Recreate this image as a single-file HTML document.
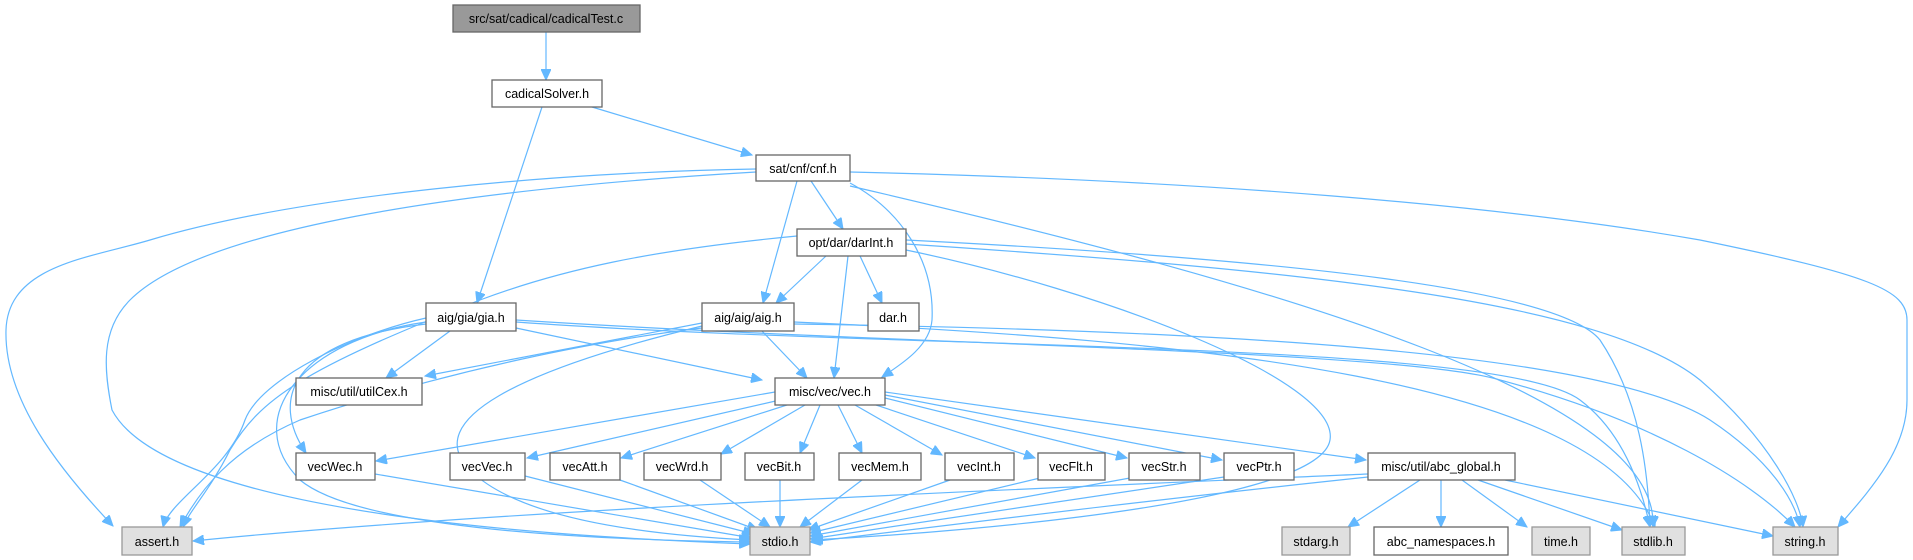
<!DOCTYPE html>
<html><head><meta charset="utf-8"><style>
html,body{margin:0;padding:0;background:#fff;}
svg{display:block;}
text{font-family:"Liberation Sans",Arial,sans-serif;font-size:12.5px;fill:#000;text-anchor:middle;}
.n{fill:#fff;stroke:#666;stroke-width:1.3;}
.g{fill:#e0e0e0;stroke:#999;stroke-width:1.3;}
.e path{fill:none;stroke:#63b8ff;stroke-width:1.2;marker-end:url(#a);}
</style></head><body>
<svg width="1913" height="560" viewBox="0 0 1913 560" xmlns="http://www.w3.org/2000/svg">
<defs><marker id="a" markerUnits="userSpaceOnUse" markerWidth="12" markerHeight="10" refX="11" refY="5" orient="auto"><path d="M0,0 L11,5 L0,10 z" fill="#63b8ff" stroke="#63b8ff"/></marker></defs>
<g class="e">
<path d="M546,32 L546,80"/>
<path d="M592,107 L752,155"/>
<path d="M542,107 L477,303"/>
<path d="M756,169 C560,172 300,195 150,240 C90,258 8,265 6,330 C4,400 60,470 113,526"/>
<path d="M756,172 C450,190 200,230 130,300 C100,330 104,370 112,410 C170,520 600,538 750,544"/>
<path d="M811,181 L843,229"/>
<path d="M797,181 L763,303"/>
<path d="M850,183 C900,210 935,260 932,320 C930,345 905,362 882,377"/>
<path d="M850,186 C1300,290 1660,400 1653,527"/>
<path d="M850,172 C1200,180 1500,205 1700,240 C1870,275 1907,290 1907,320 L1907,400 C1907,450 1870,490 1838,527"/>
<path d="M797,236 C650,250 560,270 480,300 C300,370 260,400 230,450 C210,490 190,510 183,527"/>
<path d="M826,256 L776,303"/>
<path d="M860,256 L882,303"/>
<path d="M848,256 L834,378"/>
<path d="M906,250 C1100,290 1340,380 1330,440 C1320,500 1000,530 812,540"/>
<path d="M906,240 C1300,260 1560,290 1600,340 C1640,400 1648,470 1650,527"/>
<path d="M906,244 C1300,270 1600,300 1700,380 C1770,440 1800,500 1803,527"/>
<path d="M426,318 C350,335 260,380 245,420 C228,470 170,500 163,527"/>
<path d="M426,321 C370,335 320,360 300,400 C280,450 270,490 268,527" style="display:none"/>
<path d="M426,322 C300,340 240,420 300,480 C360,530 600,540 750,542"/>
<path d="M450,331 L386,378"/>
<path d="M426,324 C290,340 270,400 306,453"/>
<path d="M516,328 L762,380"/>
<path d="M516,322 C900,350 1500,340 1580,400 C1620,430 1640,480 1650,527"/>
<path d="M516,320 C900,345 1400,350 1500,380 C1650,420 1750,480 1795,527"/>
<path d="M702,323 L425,376"/>
<path d="M702,328 C600,340 450,370 300,420 C230,450 200,490 180,527"/>
<path d="M702,326 C520,370 420,420 470,470 C520,520 650,535 750,540"/>
<path d="M762,331 L807,378"/>
<path d="M794,322 C1200,340 1600,380 1655,527"/>
<path d="M794,324 C1200,330 1600,350 1710,420 C1770,460 1795,500 1800,527"/>
<path d="M775,392 L376,461"/>
<path d="M780,400 L527,458"/>
<path d="M790,404 L621,458"/>
<path d="M805,405 L721,454"/>
<path d="M820,405 L800,453"/>
<path d="M838,405 L862,453"/>
<path d="M855,405 L942,455"/>
<path d="M870,403 L1035,458"/>
<path d="M885,398 L1127,458"/>
<path d="M885,395 L1222,460"/>
<path d="M885,392 L1366,460"/>
<path d="M375,474 L752,538"/>
<path d="M525,476 L754,534"/>
<path d="M620,480 L758,530"/>
<path d="M700,480 L770,527"/>
<path d="M780,480 L780,527"/>
<path d="M862,480 L800,527"/>
<path d="M950,480 L808,530"/>
<path d="M1040,478 L810,533"/>
<path d="M1130,478 L810,536"/>
<path d="M1224,477 L810,539"/>
<path d="M1368,474 C1000,490 500,510 193,541"/>
<path d="M1368,477 C1150,500 950,525 810,542"/>
<path d="M1420,480 L1348,527"/>
<path d="M1441,480 L1441,527"/>
<path d="M1462,480 L1527,527"/>
<path d="M1478,480 L1622,530"/>
<path d="M1505,480 L1773,536"/>
</g>
<rect x="453" y="5" width="187" height="27" fill="#999" stroke="#666" stroke-width="1.3"/><text x="546" y="23">src/sat/cadical/cadicalTest.c</text>
<rect class="n" x="492" y="80" width="110" height="27"/><text x="547" y="98">cadicalSolver.h</text>
<rect class="n" x="756" y="155" width="94" height="26"/><text x="803" y="173">sat/cnf/cnf.h</text>
<rect class="n" x="797" y="229" width="109" height="27"/><text x="851" y="247">opt/dar/darInt.h</text>
<rect class="n" x="426" y="303" width="90" height="28"/><text x="471" y="322">aig/gia/gia.h</text>
<rect class="n" x="702" y="303" width="92" height="28"/><text x="748" y="322">aig/aig/aig.h</text>
<rect class="n" x="868" y="303" width="51" height="28"/><text x="893" y="322">dar.h</text>
<rect class="n" x="296" y="378" width="126" height="27"/><text x="359" y="396">misc/util/utilCex.h</text>
<rect class="n" x="775" y="378" width="110" height="27"/><text x="830" y="396">misc/vec/vec.h</text>
<rect class="n" x="296" y="453" width="79" height="27"/><text x="335" y="471">vecWec.h</text>
<rect class="n" x="450" y="453" width="75" height="27"/><text x="487" y="471">vecVec.h</text>
<rect class="n" x="550" y="453" width="70" height="27"/><text x="585" y="471">vecAtt.h</text>
<rect class="n" x="644" y="453" width="77" height="27"/><text x="682" y="471">vecWrd.h</text>
<rect class="n" x="745" y="453" width="69" height="27"/><text x="779" y="471">vecBit.h</text>
<rect class="n" x="839" y="453" width="82" height="27"/><text x="880" y="471">vecMem.h</text>
<rect class="n" x="945" y="453" width="69" height="27"/><text x="979" y="471">vecInt.h</text>
<rect class="n" x="1038" y="453" width="67" height="27"/><text x="1071" y="471">vecFlt.h</text>
<rect class="n" x="1129" y="453" width="71" height="27"/><text x="1164" y="471">vecStr.h</text>
<rect class="n" x="1224" y="453" width="70" height="27"/><text x="1259" y="471">vecPtr.h</text>
<rect class="n" x="1368" y="453" width="147" height="27"/><text x="1441" y="471">misc/util/abc_global.h</text>
<rect class="g" x="122" y="527" width="70" height="28"/><text x="157" y="546">assert.h</text>
<rect class="g" x="750" y="527" width="60" height="28"/><text x="780" y="546">stdio.h</text>
<rect class="g" x="1282" y="527" width="68" height="28"/><text x="1316" y="546">stdarg.h</text>
<rect class="n" x="1374" y="527" width="134" height="28"/><text x="1441" y="546">abc_namespaces.h</text>
<rect class="g" x="1532" y="527" width="58" height="28"/><text x="1561" y="546">time.h</text>
<rect class="g" x="1622" y="527" width="63" height="28"/><text x="1653" y="546">stdlib.h</text>
<rect class="g" x="1773" y="527" width="65" height="28"/><text x="1805" y="546">string.h</text>
</svg>
</body></html>
